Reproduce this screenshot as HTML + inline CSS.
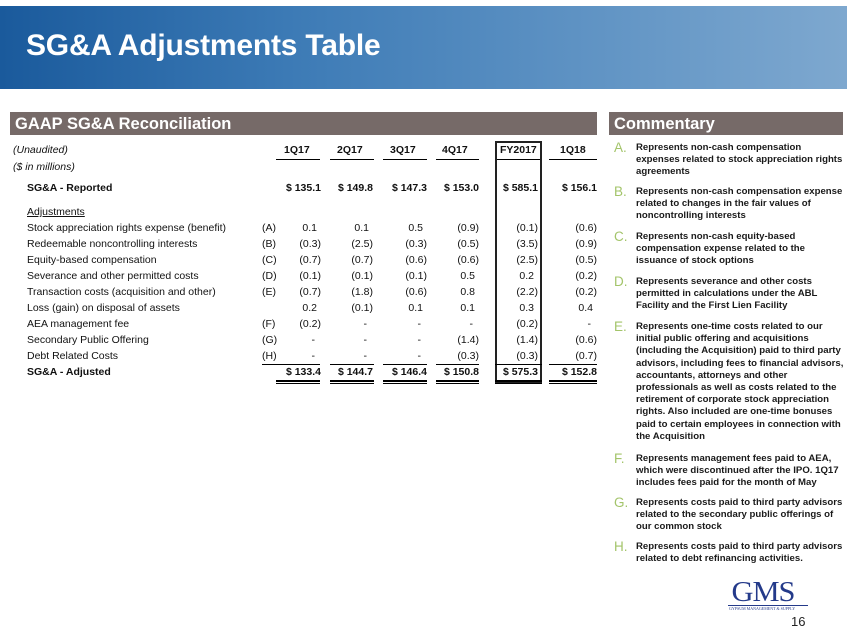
<!DOCTYPE html><html><head><style>
body{margin:0;width:847px;height:635px;background:#fff;position:relative;overflow:hidden;font-family:"Liberation Sans",sans-serif}
.a{position:absolute;white-space:nowrap}
.banner{left:0;top:6px;width:847px;height:83px;background:linear-gradient(90deg,#1a5a9c 0%,#3d7bb6 35%,#6597c6 75%,#7ea8cf 100%)}
.title{left:26px;top:29px;font-size:30px;font-weight:bold;color:#fff;letter-spacing:-0.2px}
.bar{background:#766a68;height:23px;top:112px;color:#fff;font-weight:bold;font-size:16.5px;line-height:24px;padding-left:5px;box-sizing:border-box}
.t{font-size:10.5px;color:#111}
.n{position:absolute;font-size:10.5px;color:#111;text-align:right;width:40px}
.c{font-size:9.6px;font-weight:bold;color:#1a1a1a;line-height:12.2px;white-space:normal;width:208px}
.l{font-size:13.5px;color:#a3c46a;}
.ul{position:absolute;height:1px;background:#000}
</style></head><body>
<div class="a banner"></div>
<div class="a title">SG&amp;A Adjustments Table</div>
<div class="a bar" style="left:10px;width:587px">GAAP SG&amp;A Reconciliation</div>
<div class="a bar" style="left:609px;width:234px">Commentary</div>

<div class="a t" style="left:13px;top:144px;font-style:italic">(Unaudited)</div>
<div class="a t" style="left:13px;top:161px;font-style:italic">($ in millions)</div>
<div class="a t" style="left:284px;top:144px;font-weight:bold">1Q17</div>
<div class="a t" style="left:337px;top:144px;font-weight:bold">2Q17</div>
<div class="a t" style="left:390px;top:144px;font-weight:bold">3Q17</div>
<div class="a t" style="left:442px;top:144px;font-weight:bold">4Q17</div>
<div class="a t" style="left:500px;top:144px;font-weight:bold">FY2017</div>
<div class="a t" style="left:560px;top:144px;font-weight:bold">1Q18</div>
<div class="ul" style="left:276px;top:159px;width:44px"></div>
<div class="ul" style="left:330px;top:159px;width:44px"></div>
<div class="ul" style="left:383px;top:159px;width:44px"></div>
<div class="ul" style="left:436px;top:159px;width:43px"></div>
<div class="ul" style="left:495px;top:159px;width:47px"></div>
<div class="ul" style="left:549px;top:159px;width:48px"></div>
<div class="a" style="left:495px;top:141px;width:43px;height:239px;border:2px solid #222"></div>

<div id="rows"></div>
<script>
var rows=[
["SG&A - Reported","",["$ 135.1","$ 149.8","$ 147.3","$ 153.0","$ 585.1","$ 156.1"],182,1],
["Stock appreciation rights expense (benefit)","(A)",["0.1","0.1","0.5","(0.9)","(0.1)","(0.6)"],222],
["Redeemable noncontrolling interests","(B)",["(0.3)","(2.5)","(0.3)","(0.5)","(3.5)","(0.9)"],238],
["Equity-based compensation","(C)",["(0.7)","(0.7)","(0.6)","(0.6)","(2.5)","(0.5)"],254],
["Severance and other permitted costs","(D)",["(0.1)","(0.1)","(0.1)","0.5","0.2","(0.2)"],270],
["Transaction costs (acquisition and other)","(E)",["(0.7)","(1.8)","(0.6)","0.8","(2.2)","(0.2)"],286],
["Loss (gain) on disposal of assets","",["0.2","(0.1)","0.1","0.1","0.3","0.4"],302],
["AEA management fee","(F)",["(0.2)","-","-","-","(0.2)","-"],318],
["Secondary Public Offering","(G)",["-","-","-","(1.4)","(1.4)","(0.6)"],334],
["Debt Related Costs","(H)",["-","-","-","(0.3)","(0.3)","(0.7)"],350],
["SG&A - Adjusted","",["$ 133.4","$ 144.7","$ 146.4","$ 150.8","$ 575.3","$ 152.8"],366,1]];
var rx=[321,373,427,479,538,597],h="";
rows.forEach(function(r){
 var b=r[4]?"font-weight:bold;":"";
 h+='<div class="a t" style="left:27px;top:'+r[3]+'px;'+b+'">'+r[0].replace("&","&amp;")+'</div>';
 if(r[1])h+='<div class="a t" style="left:262px;top:'+r[3]+'px">'+r[1]+'</div>';
 r[2].forEach(function(v,i){var pr=(r[4]||v.indexOf("(")==0)?0:4;if(v=="-")pr=6;
  h+='<div class="n" style="left:'+(rx[i]-44)+'px;width:'+(44-pr)+'px;top:'+r[3]+'px;'+b+'">'+v+'</div>';});
});
h+='<div class="a t" style="left:27px;top:206px;text-decoration:underline">Adjustments</div>';
var ux=[[276,44],[330,44],[383,44],[436,43],[495,47],[549,48]];
ux.forEach(function(u){h+='<div class="ul" style="left:'+u[0]+'px;top:364px;width:'+u[1]+'px"></div>';
h+='<div class="ul" style="left:'+u[0]+'px;top:380px;width:'+u[1]+'px;height:2px"></div>';
h+='<div class="ul" style="left:'+u[0]+'px;top:383px;width:'+u[1]+'px;height:1px"></div>';});
h+='<div class="ul" style="left:262px;top:364px;width:14px"></div>';
document.getElementById("rows").innerHTML=h;
</script>

<div class="a l" style="left:614px;top:140px">A.</div>
<div class="a c" style="left:636px;top:142px">Represents non-cash compensation expenses related to stock appreciation rights agreements</div>
<div class="a l" style="left:614px;top:184px">B.</div>
<div class="a c" style="left:636px;top:186px">Represents non-cash compensation expense related to changes in the fair values of noncontrolling interests</div>
<div class="a l" style="left:614px;top:229px">C.</div>
<div class="a c" style="left:636px;top:231px">Represents non-cash equity-based compensation expense related to the issuance of stock options</div>
<div class="a l" style="left:614px;top:274px">D.</div>
<div class="a c" style="left:636px;top:276px">Represents severance and other costs permitted in calculations under the ABL Facility and the First Lien Facility</div>
<div class="a l" style="left:614px;top:319px">E.</div>
<div class="a c" style="left:636px;top:321px">Represents one-time costs related to our initial public offering and acquisitions (including the Acquisition) paid to third party advisors, including fees to financial advisors, accountants, attorneys and other professionals as well as costs related to the retirement of corporate stock appreciation rights. Also included are one-time bonuses paid to certain employees in connection with the Acquisition</div>
<div class="a l" style="left:614px;top:451px">F.</div>
<div class="a c" style="left:636px;top:453px">Represents management fees paid to AEA, which were discontinued after the IPO. 1Q17 includes fees paid for the month of May</div>
<div class="a l" style="left:614px;top:495px">G.</div>
<div class="a c" style="left:636px;top:497px">Represents costs paid to third party advisors related to the secondary public offerings of our common stock</div>
<div class="a l" style="left:614px;top:539px">H.</div>
<div class="a c" style="left:636px;top:541px">Represents costs paid to third party advisors related to debt refinancing activities.</div>

<div class="a" style="left:733px;top:576px;font-family:'Liberation Serif',serif;font-size:29px;color:#243a8a;letter-spacing:-1px;transform:scaleX(1.05)">GMS</div>
<div class="a" style="left:728px;top:605px;width:80px;height:1px;background:#243a8a"></div>
<div class="a" style="left:729px;top:606px;font-family:'Liberation Serif',serif;font-size:4px;color:#243a8a">GYPSUM MANAGEMENT &amp; SUPPLY</div>
<div class="a" style="left:791px;top:614px;font-size:13px;color:#222">16</div>
</body></html>
